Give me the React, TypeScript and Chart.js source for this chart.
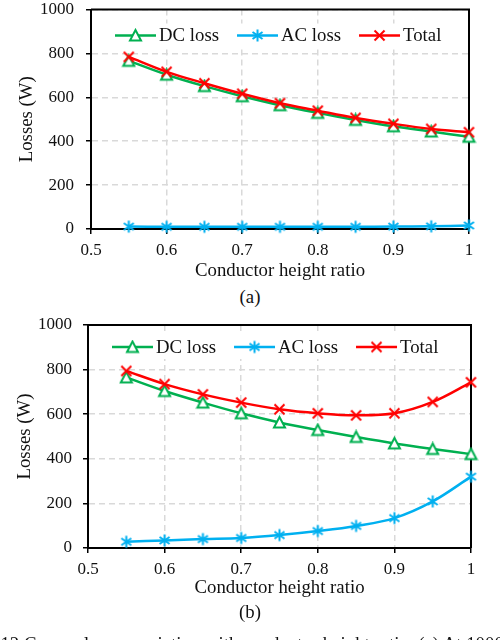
import { useEffect, useRef } from "react";
import { Chart, registerables } from "chart.js";

Chart.register(...registerables);

const FONT = "'Liberation Serif', 'Times New Roman', serif";

// conductor height ratio (x positions of the markers)
const heightRatio = [0.55, 0.6, 0.65, 0.7, 0.75, 0.8, 0.85, 0.9, 0.95, 1];

// (a)
const dcLossA = [766, 703, 651, 605, 564, 529, 497, 468, 444, 420];
const acLossA = [11, 10, 10, 10, 10, 10, 10, 11, 12, 16];
const totalA = [784, 716, 664, 616, 573, 539, 506, 479, 456, 441];

// (b)
const dcLossB = [765, 704, 652, 604, 563, 529, 498, 469, 444, 421];
const acLossB = [28, 34, 40, 45, 58, 76, 99, 134, 209, 320];
const totalB = [794, 735, 689, 652, 622, 604, 595, 604, 655, 743];

const xTicks = [0.5, 0.6, 0.7, 0.8, 0.9, 1];
const yTicks = [0, 200, 400, 600, 800, 1000];

const seriesNames = ["DC loss", "AC loss", "Total"];
const seriesColors = ["#00b050", "#00b0f0", "#ff0000"];

function makeMarker(kind: string, color: string) {
  const c = document.createElement("canvas");
  c.width = 15;
  c.height = 15;
  const g = c.getContext("2d")!;
  g.strokeStyle = color;
  g.lineWidth = 2;
  g.beginPath();
  if (kind === "triangle") {
    g.moveTo(7.5, 2);
    g.lineTo(13, 12.5);
    g.lineTo(2, 12.5);
    g.closePath();
    g.fillStyle = "#fff";
    g.fill();
  } else if (kind === "star") {
    g.moveTo(7.5, 1.5);
    g.lineTo(7.5, 13.5);
    g.moveTo(2.5, 4);
    g.lineTo(12.5, 11);
    g.moveTo(12.5, 4);
    g.lineTo(2.5, 11);
  } else {
    g.moveTo(2.5, 2.5);
    g.lineTo(12.5, 12.5);
    g.moveTo(12.5, 2.5);
    g.lineTo(2.5, 12.5);
  }
  g.stroke();
  return c;
}

type Box = {
  height: number;
  padTop: number;
  padRight: number;
  yWidth: number;
  xHeight: number;
  yTitlePad: number;
  xTitlePad: number;
  yTickPad: number;
  legendY: number;
};

const Panel = ({
  dc,
  ac,
  total,
  box,
}: {
  dc: number[];
  ac: number[];
  total: number[];
  box: Box;
}) => {
  const chartRef = useRef<HTMLCanvasElement>(null);

  useEffect(() => {
    if (!chartRef.current) return;

    const markers = [
      makeMarker("triangle", seriesColors[0]),
      makeMarker("star", seriesColors[1]),
      makeMarker("cross", seriesColors[2]),
    ];
    const values = [dc, ac, total];

    const datasets = seriesNames.map((name, k) => ({
      label: name,
      data: heightRatio.map((x, i) => ({ x, y: values[k][i] })),
      borderColor: seriesColors[k],
      backgroundColor: seriesColors[k],
      borderWidth: 2.5,
      tension: 0.35,
      pointStyle: markers[k],
      pointRadius: 7,
      pointHoverRadius: 7,
      clip: false as any,
      order: 3 - k,
    }));

    // top and right edges of the plot box
    const framePlugin = {
      id: "frame",
      beforeDatasetsDraw(chart: any) {
        const { ctx, chartArea: a } = chart;
        ctx.save();
        ctx.strokeStyle = "#000";
        ctx.lineWidth = 2;
        ctx.beginPath();
        ctx.moveTo(a.left, a.top);
        ctx.lineTo(a.right, a.top);
        ctx.lineTo(a.right, a.bottom);
        ctx.stroke();
        ctx.restore();
      },
    };

    // legend inside the plot, line + marker samples like Excel
    const legendPlugin = {
      id: "insideLegend",
      afterDatasetsDraw(chart: any) {
        const { ctx, chartArea: a } = chart;
        ctx.save();
        ctx.font = `18.8px ${FONT}`;
        ctx.textBaseline = "middle";
        const y = a.top + box.legendY;
        const x0 = a.left + 24;
        const widths = seriesNames.map((n) => ctx.measureText(n).width);
        const full =
          widths.reduce((s, w) => s + w + 44, 0) + 18 * (widths.length - 1);
        ctx.fillStyle = "#fff";
        ctx.fillRect(x0 - 4, y - 12, full + 8, 24);
        let x = x0;
        seriesNames.forEach((name, k) => {
          ctx.strokeStyle = seriesColors[k];
          ctx.lineWidth = 2.5;
          ctx.beginPath();
          ctx.moveTo(x, y);
          ctx.lineTo(x + 41, y);
          ctx.stroke();
          ctx.drawImage(markers[k], x + 20.5 - 7.5, y - 7.5);
          ctx.fillStyle = "#111";
          ctx.fillText(name, x + 44, y + 1);
          x += 44 + widths[k] + 18;
        });
        ctx.restore();
      },
    };

    const chart = new Chart(chartRef.current, {
      type: "line",
      data: { datasets: datasets as any },
      plugins: [framePlugin, legendPlugin],
      options: {
        animation: false,
        responsive: true,
        maintainAspectRatio: false,
        layout: {
          padding: { top: box.padTop, right: box.padRight, left: 0, bottom: 0 },
        },
        plugins: {
          legend: { display: false },
          tooltip: { enabled: false },
        },
        font: { family: FONT },
        scales: {
          x: {
            type: "linear",
            min: 0.5,
            max: 1,
            afterBuildTicks: (s: any) => {
              s.ticks = xTicks.map((value) => ({ value }));
            },
            afterFit: (s: any) => {
              s.height = box.xHeight;
            },
            ticks: {
              font: { family: FONT, size: 17 },
              color: "#111",
              padding: 6,
              maxRotation: 0,
              autoSkip: false,
              callback: (v: any) => String(v),
            },
            grid: {
              color: "#d9d9d9",
              lineWidth: 1.5,
              tickLength: 5,
              tickColor: "#000",
              tickWidth: 1.5,
              tickBorderDash: [],
            },
            border: { display: true, color: "#000", width: 2, dash: [6, 4] },
            title: {
              display: true,
              text: "Conductor height ratio",
              font: { family: FONT, size: 18.8 },
              color: "#111",
              padding: { top: 0, bottom: box.xTitlePad },
            },
          },
          y: {
            type: "linear",
            min: 0,
            max: 1000,
            afterBuildTicks: (s: any) => {
              s.ticks = yTicks.map((value) => ({ value }));
            },
            afterFit: (s: any) => {
              s.width = box.yWidth;
              s.paddingTop = 0;
              s.paddingBottom = 0;
            },
            ticks: {
              font: { family: FONT, size: 17 },
              color: "#111",
              padding: box.yTickPad,
              callback: (v: any) => String(v),
            },
            grid: {
              color: "#d9d9d9",
              lineWidth: 1.5,
              tickLength: 5,
              tickColor: "#000",
              tickWidth: 1.5,
              tickBorderDash: [],
            },
            border: { display: true, color: "#000", width: 2, dash: [6, 4] },
            title: {
              display: true,
              text: "Losses (W)",
              font: { family: FONT, size: 18.8 },
              color: "#111",
              padding: { top: box.yTitlePad, bottom: 0 },
            },
          },
        },
      } as any,
    });

    return () => {
      chart.destroy();
    };
  }, []);

  return (
    <div style={{ position: "relative", width: "500px", height: box.height + "px" }}>
      <canvas ref={chartRef} />
    </div>
  );
};

const caption: React.CSSProperties = {
  position: "absolute",
  left: 0,
  width: "500px",
  textAlign: "center",
  fontFamily: FONT,
  fontSize: "18.8px",
  lineHeight: "20px",
  color: "#111",
};

export default function App() {
  return (
    <div
      style={{
        position: "absolute",
        left: 0,
        top: 0,
        width: "500px",
        height: "640px",
        overflow: "hidden",
        background: "#fff",
      }}
    >
      <div style={{ position: "absolute", left: 0, top: 0 }}>
        <Panel
          dc={dcLossA}
          ac={acLossA}
          total={totalA}
          box={{
            height: 282,
            padTop: 7,
            padRight: 31,
            yWidth: 91,
            xHeight: 53,
            yTitlePad: 16,
            xTitlePad: 0,
            yTickPad: 12,
            legendY: 26,
          }}
        />
      </div>
      <div style={{ ...caption, top: "287px" }}>(a)</div>
      <div style={{ position: "absolute", left: 0, top: "312px" }}>
        <Panel
          dc={dcLossB}
          ac={acLossB}
          total={totalB}
          box={{
            height: 290,
            padTop: 13,
            padRight: 29,
            yWidth: 88,
            xHeight: 54,
            yTitlePad: 14,
            xTitlePad: 3,
            yTickPad: 11,
            legendY: 22,
          }}
        />
      </div>
      <div style={{ ...caption, top: "602px" }}>(b)</div>
      <div
        style={{
          ...caption,
          top: "634px",
          left: "-34px",
          width: "600px",
          textAlign: "left",
          whiteSpace: "nowrap",
        }}
      >
        Fig. 12 Copper losses variation with conductor height ratio. (a) At 1000 Hz
      </div>
    </div>
  );
}
